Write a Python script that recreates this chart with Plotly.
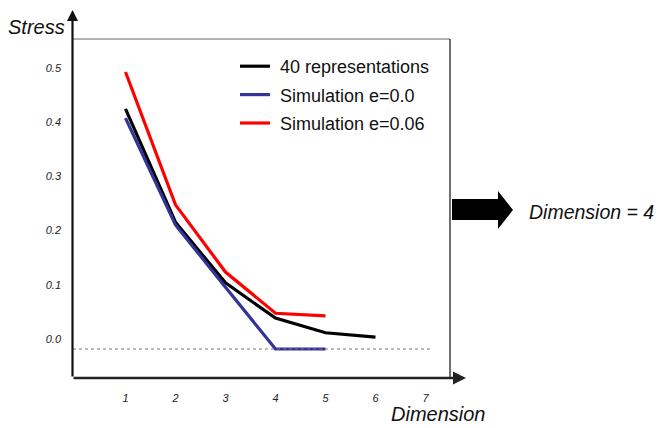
import plotly.graph_objects as go

# ---- data ----
dims_black = [1, 2, 3, 4, 5, 6]
stress_black = [0.443, 0.234, 0.122, 0.057, 0.030, 0.022]
dims_blue = [1, 2, 3, 4, 5]
stress_blue = [0.426, 0.229, 0.114, 0.0, 0.0]
dims_red = [1, 2, 3, 4, 5]
stress_red = [0.511, 0.266, 0.142, 0.066, 0.061]

names = ["\u00a040 representations", "\u00a0Simulation e=0.0", "\u00a0Simulation e=0.06"]
colors = ["#000000", "#333399", "#ff0000"]
x_ticks = [1, 2, 3, 4, 5, 6, 7]
y_ticks = [0.0, 0.1, 0.2, 0.3, 0.4, 0.5]
y_tick_text = ["0.0", "0.1", "0.2", "0.3", "0.4", "0.5"]

W, H = 661, 428
L, R, T, B = 73, 211, 39, 50
PW, PH = W - L - R, H - T - B


def xp(px):
    return (px - L) / PW


def yp(py):
    return (H - B - py) / PH


fig = go.Figure()
series = [(dims_black, stress_black), (dims_blue, stress_blue), (dims_red, stress_red)]
for i, ((xs, ys), nm, c) in enumerate(zip(series, names, colors)):
    fig.add_trace(go.Scatter(x=xs, y=ys, mode="lines", name=nm,
                             line=dict(color=c, width=3.2),
                             legendgroup=f"g{i}"))

tickfont = dict(family="Liberation Sans, Arial, sans-serif", size=11,
                color="#222", style="italic")
fig.update_xaxes(range=[-0.05, 7.49], tickvals=x_ticks, showgrid=False,
                 zeroline=False, showline=False, ticks="", tickfont=tickfont,
                 ticklabelstandoff=12)
fig.update_yaxes(range=[-0.0535, 0.572], tickvals=y_ticks, ticktext=y_tick_text,
                 showgrid=False, zeroline=False, showline=False, ticks="",
                 tickfont=tickfont, ticklabelstandoff=11, ticklabelshift=-10)

shapes = [
    # dotted baseline at y=0
    dict(type="line", xref="x", yref="y", x0=-0.05, x1=7.09, y0=0, y1=0,
         line=dict(color="#777", width=1, dash="dot")),
    # top frame line
    dict(type="line", xref="paper", yref="paper", x0=xp(72), x1=xp(450),
         y0=yp(39), y1=yp(39), line=dict(color="#666", width=1.2)),
    # right frame line
    dict(type="line", xref="paper", yref="paper", x0=xp(450), x1=xp(450),
         y0=yp(39), y1=yp(378), line=dict(color="#111", width=1.2)),
    # block arrow
    dict(type="path", xref="paper", yref="paper",
         path=(f"M {xp(452)},{yp(199)} L {xp(498)},{yp(199)} L {xp(498)},{yp(191)} "
               f"L {xp(513)},{yp(210)} L {xp(498)},{yp(229)} L {xp(498)},{yp(220)} "
               f"L {xp(452)},{yp(220)} Z"),
         fillcolor="#000", line=dict(color="#000", width=0)),
]
fig.update_layout(shapes=shapes)

annotations = [
    # y axis with arrow
    dict(xref="paper", yref="paper", x=xp(72.5), y=yp(10), ax=0, ay=368,
         text="", showarrow=True, arrowhead=2, arrowsize=1.0, arrowwidth=2.2,
         arrowcolor="#111"),
    # x axis with arrow
    dict(xref="paper", yref="paper", x=xp(466), y=yp(378), ax=-394, ay=0,
         text="", showarrow=True, arrowhead=2, arrowsize=1.0, arrowwidth=2.6,
         arrowcolor="#222"),
    dict(xref="paper", yref="paper", x=xp(67), y=yp(27), text="Stress",
         showarrow=False, xanchor="right", yanchor="middle",
         font=dict(family="Liberation Sans, Arial, sans-serif",
                   size=20, color="#111", style="italic")),
    dict(xref="paper", yref="paper", x=xp(487), y=yp(414), text="Dimension",
         showarrow=False, xanchor="right", yanchor="middle",
         font=dict(family="Liberation Sans, Arial, sans-serif",
                   size=20, color="#111", style="italic")),
    dict(xref="paper", yref="paper", x=xp(527), y=yp(212), text="Dimension = 4",
         showarrow=False, xanchor="left", yanchor="middle",
         font=dict(family="Liberation Sans, Arial, sans-serif", size=19.5,
                   color="#111", style="italic")),
]
fig.update_layout(annotations=annotations)

fig.update_layout(
    width=W, height=H,
    margin=dict(l=L, r=R, t=T, b=B),
    paper_bgcolor="white", plot_bgcolor="white",
    showlegend=True,
    legend=dict(x=xp(235), y=yp(48), xanchor="left", yanchor="top",
                bgcolor="rgba(0,0,0,0)", traceorder="grouped", tracegroupgap=2,
                font=dict(family="Liberation Sans, Arial, sans-serif", size=18,
                          color="#111")),
)

fig.write_html("out.html", config={"displayModeBar": False},
               post_script="document.body.style.margin='0px';document.body.style.overflow='hidden';")
